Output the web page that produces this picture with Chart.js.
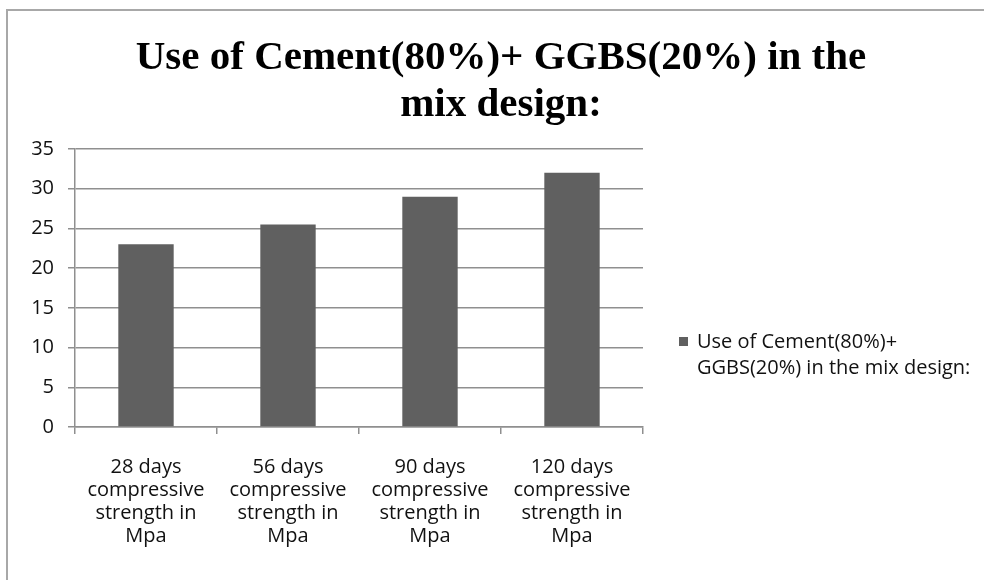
<!DOCTYPE html>
<html>
<head>
<meta charset="utf-8">
<script src="https://cdn.jsdelivr.net/npm/chart.js@4.4.0/dist/chart.umd.min.js"></script>
<style>
  body { margin: 0; background: #fff; overflow: hidden; }
  #frame { position: absolute; left: 6px; top: 9px; width: 1200px; height: 800px; border: 2px solid #a8a8a8; }
  #chartjs { position: absolute; left: 0; top: 0; }
</style>
</head>
<body>
<div id="frame"></div>
<canvas id="chartjs" width="1002" height="580"></canvas>
<script>
// values
const titleLines = ['Use of Cement(80%)+ GGBS(20%) in the', 'mix design:']
const categories = [
  ['28 days', 'compressive', 'strength in', 'Mpa'],
  ['56 days', 'compressive', 'strength in', 'Mpa'],
  ['90 days', 'compressive', 'strength in', 'Mpa'],
  ['120 days', 'compressive', 'strength in', 'Mpa']
]
const strengths = [23, 25.5, 29, 32]
const seriesName = 'Use of Cement(80%)+ GGBS(20%) in the mix design:'
const legendLines = ['Use of Cement(80%)+', 'GGBS(20%) in the mix design:']
const yMax = 35
const yStep = 5

const barColor = '#606060'
const gridColor = '#8f8f8f'
const textColor = '#111'

Chart.defaults.font.family = "'Open Sans', sans-serif"

// legend drawn by hand so the label can wrap on two lines like Excel does
const sideLegend = {
  id: 'sideLegend',
  afterDraw(chart) {
    const ctx = chart.ctx
    ctx.save()
    ctx.fillStyle = barColor
    ctx.fillRect(679, 337, 9, 9)
    ctx.fillStyle = textColor
    ctx.font = "20px 'Open Sans'"
    ctx.textBaseline = 'middle'
    ctx.textAlign = 'left'
    legendLines.forEach((line, i) => {
      ctx.fillText(line, 697, 342 + i * 26)
    })
    ctx.restore()
  }
}

const ctx = document.getElementById('chartjs').getContext('2d')
const myChart = new Chart(ctx, {
  type: 'bar',
  data: {
    labels: categories,
    datasets: [{
      label: seriesName,
      data: strengths,
      backgroundColor: barColor,
      borderWidth: 0,
      barPercentage: 0.39,
      categoryPercentage: 1
    }]
  },
  options: {
    responsive: false,
    animation: false,
    layout: { padding: 0 },
    plugins: {
      legend: { display: false },
      tooltip: { enabled: false },
      title: {
        display: true,
        text: titleLines,
        color: '#000',
        font: { family: "'Liberation Serif', 'Times New Roman', serif", size: 41, weight: 'bold', lineHeight: 47 / 41 },
        padding: { top: 35, bottom: 20 }
      }
    },
    scales: {
      x: {
        grid: { drawOnChartArea: false, drawTicks: true, tickLength: 7, color: gridColor, lineWidth: 1.5, offset: true },
        border: { display: true, color: gridColor, width: 1.5 },
        ticks: { color: textColor, font: { size: 20, lineHeight: 23 / 20 }, padding: 22, maxRotation: 0, autoSkip: false },
        afterFit: s => { s.height = 153 }
      },
      y: {
        min: 0,
        max: yMax,
        grid: { color: gridColor, lineWidth: 1.5, tickLength: 7 },
        border: { display: true, color: gridColor, width: 1.5 },
        ticks: { stepSize: yStep, color: textColor, font: { size: 20 }, padding: 14 },
        afterFit: s => { s.width = 75 }
      },
      // empty axis that only reserves the room on the right for the legend
      side: {
        type: 'linear',
        position: 'right',
        grid: { display: false },
        border: { display: false },
        ticks: { display: false },
        afterFit: s => { s.width = 359 }
      }
    }
  },
  plugins: [sideLegend]
})
</script>
</body>
</html>
